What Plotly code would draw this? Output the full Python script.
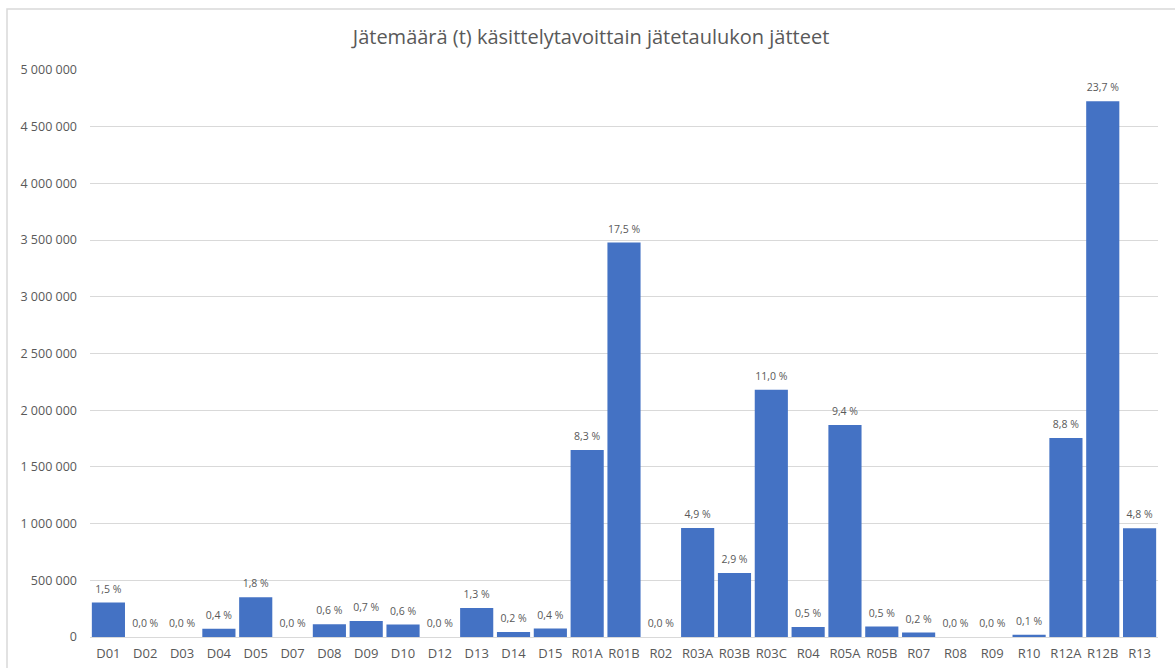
import plotly.graph_objects as go

categories = ["D01", "D02", "D03", "D04", "D05", "D07", "D08", "D09", "D10", "D12",
              "D13", "D14", "D15", "R01A", "R01B", "R02", "R03A", "R03B", "R03C", "R04",
              "R05A", "R05B", "R07", "R08", "R09", "R10", "R12A", "R12B", "R13"]
values = [305000, 0, 0, 72000, 350000, 0, 112000, 142000, 110000, 0,
          255000, 45000, 75000, 1650000, 3478000, 0, 962000, 565000, 2180000, 88000,
          1870000, 92000, 40000, 0, 0, 20000, 1755000, 4725000, 960000]
percents = [1.5, 0.0, 0.0, 0.4, 1.8, 0.0, 0.6, 0.7, 0.6, 0.0,
            1.3, 0.2, 0.4, 8.3, 17.5, 0.0, 4.9, 2.9, 11.0, 0.5,
            9.4, 0.5, 0.2, 0.0, 0.0, 0.1, 8.8, 23.7, 4.8]
y_ticks = [0, 500000, 1000000, 1500000, 2000000, 2500000, 3000000, 3500000, 4000000, 4500000, 5000000]

FONT = "Open Sans"
GREY = "#595959"

fig = go.Figure()
fig.add_trace(go.Bar(
    x=categories, y=values,
    marker=dict(color="#4472C4", line=dict(width=0)),
    hoverinfo="x+y",
))
fig.add_trace(go.Scatter(
    x=categories, y=values, customdata=percents,
    mode="markers+text",
    marker=dict(size=10, opacity=0, color="#4472C4"),
    texttemplate="%{customdata:.1f} %", textposition="top center",
    textfont=dict(size=10.5, color=GREY, family=FONT),
    cliponaxis=False, hoverinfo="skip",
))

fig.update_layout(
    width=1175, height=668,
    margin=dict(l=90, r=17, t=70, b=31, autoexpand=False),
    paper_bgcolor="white", plot_bgcolor="white",
    separators=", ",
    bargap=0.1,
    showlegend=False,
    title=dict(text="Jätemäärä (t) käsittelytavoittain jätetaulukon jätteet",
               x=0.503, xref="container", y=0.945, yref="container", yanchor="middle",
               font=dict(size=20, color=GREY, family=FONT)),
    font=dict(family=FONT, color=GREY),
    xaxis=dict(tickfont=dict(size=13, color=GREY), showgrid=False, showline=False,
               ticks="", ticklen=0, tickangle=0, range=[-0.5, len(categories) - 0.5],
               automargin=False, ticklabelstandoff=7),
    yaxis=dict(range=[0, 5000000], tickvals=y_ticks, tickformat=",d",
               tickfont=dict(size=12.5, color=GREY), gridcolor="#D9D9D9", gridwidth=1,
               zeroline=True, zerolinecolor="#D9D9D9", zerolinewidth=1,
               showline=False, ticks="", ticklabelstandoff=12, automargin=False),
    shapes=[dict(type="rect", xref="paper", yref="paper",
                 x0=-83/1068, x1=1.2, y0=-0.2, y1=1 + 61/567,
                 line=dict(color="#D9D9D9", width=1.5), fillcolor="rgba(0,0,0,0)", layer="below")],
)

fig.write_html("out.html")
